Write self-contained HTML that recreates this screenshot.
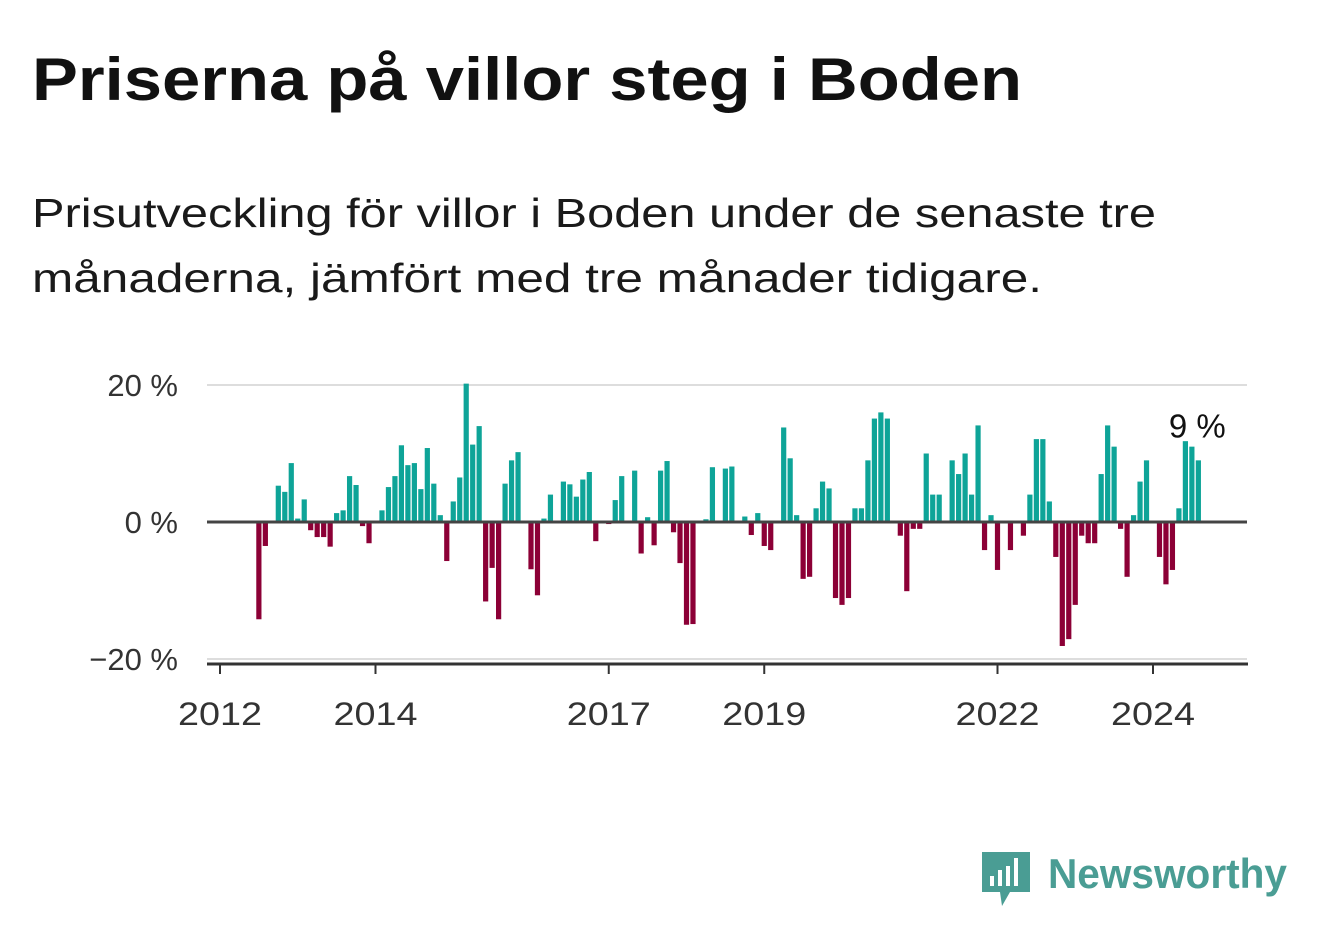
<!DOCTYPE html>
<html><head><meta charset="utf-8"><style>
body{margin:0;background:#fff;width:1322px;height:939px;overflow:hidden;font-family:"Liberation Sans",sans-serif}
</style></head><body>
<svg width="1322" height="939" viewBox="0 0 1322 939">
<text x="32" y="100" font-size="60" font-weight="bold" fill="#111" textLength="990" lengthAdjust="spacingAndGlyphs">Priserna på villor steg i Boden</text>
<text x="32" y="227" font-size="41" fill="#1a1a1a" textLength="1124" lengthAdjust="spacingAndGlyphs">Prisutveckling för villor i Boden under de senaste tre</text>
<text x="32" y="292" font-size="41" fill="#1a1a1a" textLength="1010" lengthAdjust="spacingAndGlyphs">månaderna, jämfört med tre månader tidigare.</text>
<g id="plot"></g>
<g>
<path d="M982 852 h48 v40 h-20 l-8 14 l-2 -14 h-18 z" fill="#4a9d94"/>
<rect x="990" y="876" width="4" height="10" fill="#fff"/><rect x="998" y="870" width="4" height="16" fill="#fff"/><rect x="1006" y="866" width="4" height="20" fill="#fff"/><rect x="1014" y="858" width="4" height="28" fill="#fff"/>
<text x="1048" y="888" font-size="42" font-weight="bold" fill="#4a9d94" textLength="239" lengthAdjust="spacingAndGlyphs">Newsworthy</text>
</g>
</svg>
<script>
const values = [0,0,0,0,0,0,-14.2,-3.5,0,5.3,4.4,8.6,0.5,3.3,-1.2,-2.2,-2.2,-3.6,1.3,1.7,6.7,5.4,-0.6,-3.1,
0,1.7,5.1,6.7,11.2,8.3,8.6,4.8,10.8,5.6,1.0,-5.7,3.0,6.5,20.2,11.3,14.0,-11.6,-6.7,-14.2,5.6,9.0,10.2,0,
-6.9,-10.7,0.5,4.0,0,5.9,5.5,3.7,6.2,7.3,-2.8,0,-0.3,3.2,6.7,0,7.5,-4.6,0.7,-3.4,7.5,8.9,-1.5,-6.0,
-15.0,-14.9,0,0.4,8.0,0,7.8,8.1,0,0.8,-1.9,1.3,-3.5,-4.1,0,13.8,9.3,1.0,-8.3,-8.0,2.0,5.9,4.9,-11.1,
-12.1,-11.1,2.0,2.0,9.0,15.1,16.0,15.1,0,-2.0,-10.1,-1.0,-1.0,10.0,4.0,4.0,0,9.0,7.0,10.0,4.0,14.1,
-4.1,1.0,-7.0,0,-4.1,0,-2.0,4.0,12.1,12.1,3.0,-5.1,-18.1,-17.1,-12.1,-2.0,-3.1,-3.1,7.0,14.1,11.0,-1.0,
-8.0,1.0,5.9,9.0,0,-5.1,-9.1,-7.0,2.0,11.8,11.0,9.0];
const startYear = 2012;
const yTicks = [20,0,-20];
const yTickLabels = ["20 %","0 %","\u221220 %"];
const xTickYears = [2012,2014,2017,2019,2022,2024];
const NS="http://www.w3.org/2000/svg";
const g=document.getElementById('plot');
const x0=220,pxYear=77.75,y0=522,pxPct=6.85;
const xs=m=>x0+m*pxYear/12;
const ys=v=>y0-v*pxPct;
function mk(t,a){const e=document.createElementNS(NS,t);for(const k in a)e.setAttribute(k,a[k]);g.appendChild(e);return e;}
yTicks.forEach((t,i)=>{
  if(t!==0){const l=mk('line',{x1:207,x2:1247,y1:ys(t),y2:ys(t),stroke:'#ddd','stroke-width':2});
  
  }
  const tx=mk('text',{x:178,y:ys(t)+11,'font-size':31,'text-anchor':'end',fill:'#333'});
  tx.textContent=yTickLabels[i];
  
  
});
values.forEach((v,i)=>{
  if(v===0)return;
  const y=Math.min(ys(v),y0),h=Math.abs(ys(v)-y0);
  const r=mk('rect',{x:xs(i)-2.6,y:y,width:5.2,height:h,fill:v>0?'#0ea498':'#8c0036'});
  
  
});
const zl=mk('line',{x1:207,x2:1247,y1:y0,y2:y0,stroke:'#444','stroke-width':3});


const ax=mk('line',{x1:207,x2:1248,y1:664,y2:664,stroke:'#333','stroke-width':3});


xTickYears.forEach(yr=>{
  const x=xs((yr-startYear)*12);
  const tk=mk('line',{x1:x,x2:x,y1:664,y2:674,stroke:'#333','stroke-width':2});
  
  
  const t=mk('text',{x:x,y:725,'font-size':32,'text-anchor':'middle',fill:'#333',textLength:84,lengthAdjust:'spacingAndGlyphs'});
  t.textContent=yr;
  
  
});
const last=values.length-1;
const lab=mk('text',{x:xs(last)-1,y:ys(values[last])-23,'font-size':33,'text-anchor':'middle',fill:'#111'});
lab.textContent=Math.round(values[last])+" %";


</script>
</body></html>
